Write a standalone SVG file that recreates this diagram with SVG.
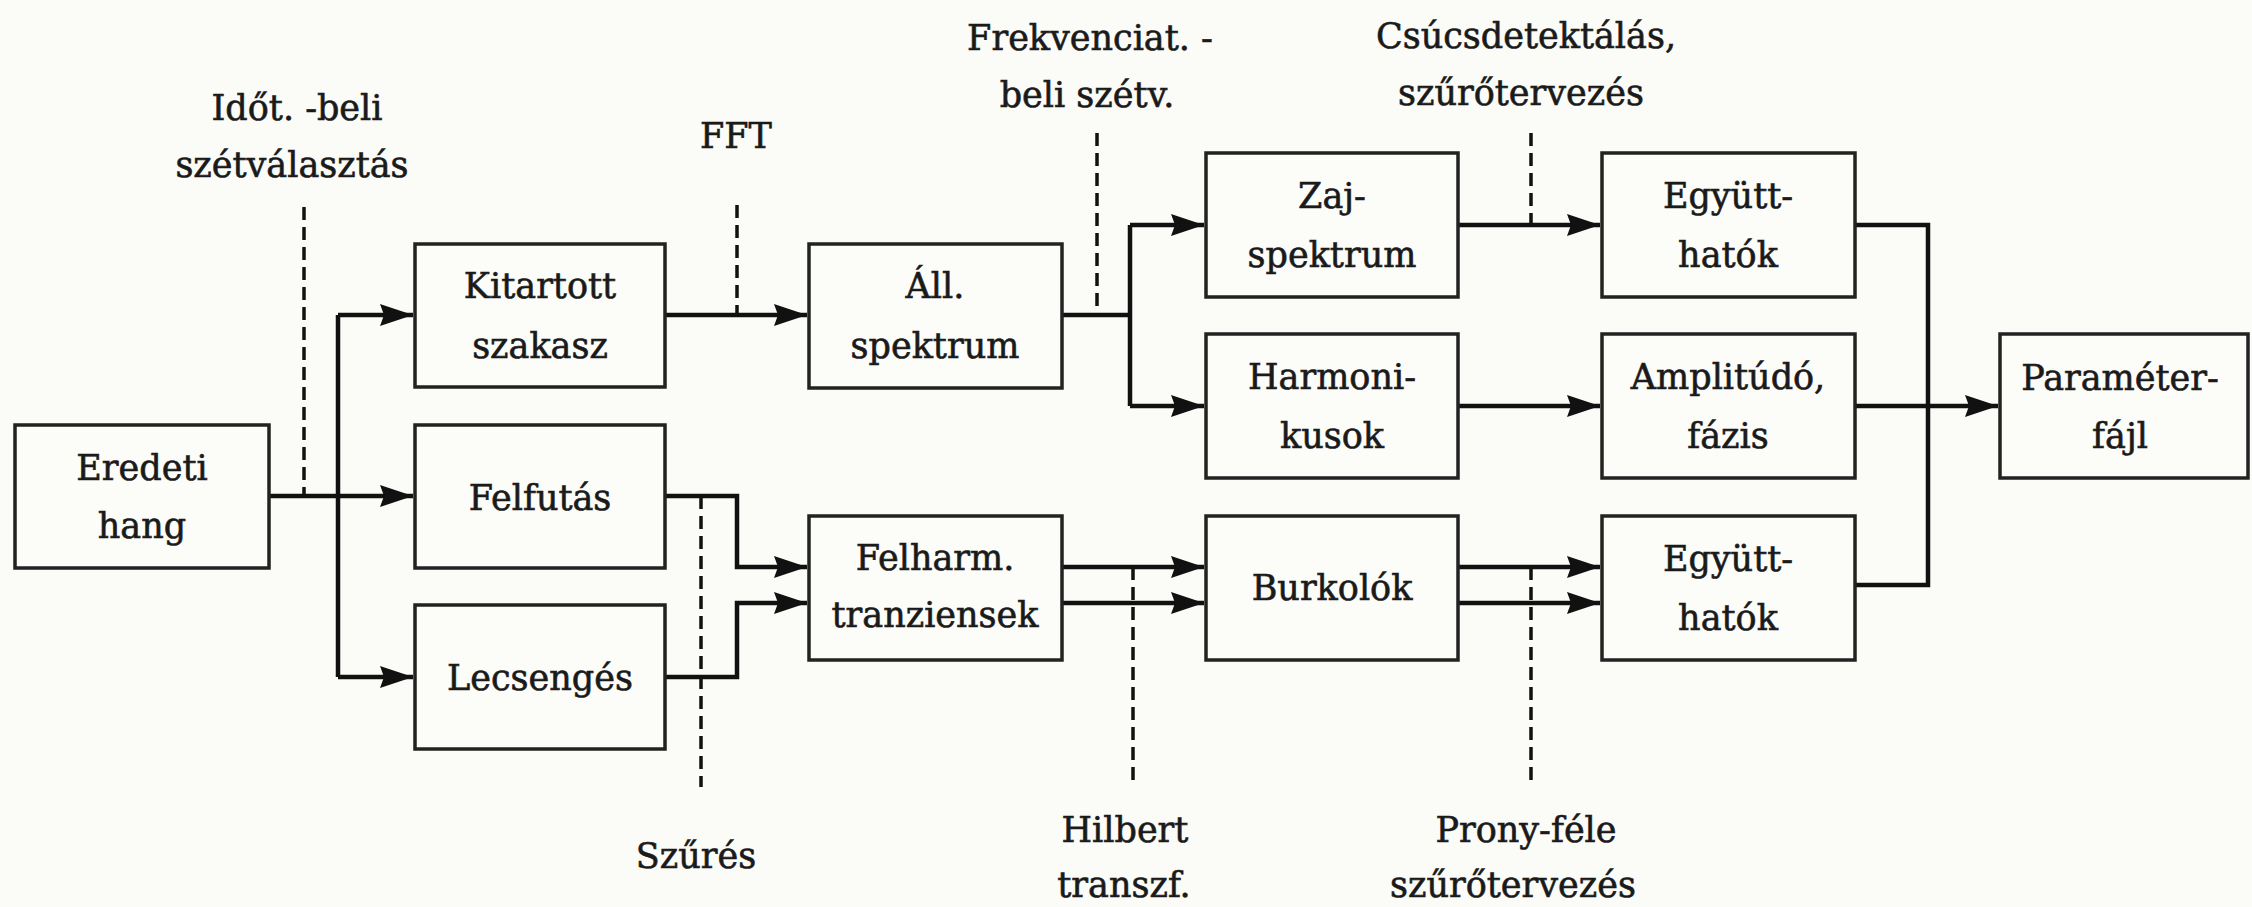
<svg xmlns="http://www.w3.org/2000/svg" width="2252" height="907" viewBox="0 0 2252 907">
<style>
.bg{fill:#fbfbf7}
.box{fill:#fcfcf9;stroke:#222;stroke-width:3.5}
.t{font-family:"DejaVu Serif","Liberation Serif",serif;font-size:35px;fill:#1a1a1a;stroke:#1a1a1a;stroke-width:0.6;text-anchor:middle}
.c{fill:none;stroke:#111;stroke-width:4.5;stroke-linejoin:miter}
.a{fill:none;stroke:#111;stroke-width:4.5;marker-end:url(#ah)}
.d{fill:none;stroke:#111;stroke-width:3.5;stroke-dasharray:13 7}
</style>
<defs>
<marker id="ah" markerUnits="userSpaceOnUse" markerWidth="36" markerHeight="24" refX="33" refY="11" orient="auto">
<path d="M0,0 L33,11 L0,22 L4,11 z" fill="#111"/>
</marker>
</defs>
<rect class="bg" x="0" y="0" width="2252" height="907"/>

<g id="connectors">
<path class="a" d="M269,496 H413"/>
<path class="c" d="M338,315 V677"/>
<path class="a" d="M338,315 H413"/>
<path class="a" d="M338,677 H413"/>
<path class="a" d="M665,315 H807"/>
<path class="a" d="M665,496 H737 V567 H807"/>
<path class="a" d="M665,677 H737 V603 H807"/>
<path class="c" d="M1062,315 H1130"/>
<path class="c" d="M1130,225 V406"/>
<path class="a" d="M1130,225 H1204"/>
<path class="a" d="M1130,406 H1204"/>
<path class="a" d="M1062,567 H1204"/>
<path class="a" d="M1062,603 H1204"/>
<path class="a" d="M1458,225 H1600"/>
<path class="a" d="M1458,406 H1600"/>
<path class="a" d="M1458,567 H1600"/>
<path class="a" d="M1458,603 H1600"/>
<path class="c" d="M1855,225 H1928 V585 H1855"/>
<path class="a" d="M1855,406 H1998"/>
<path class="d" d="M304,207 V496"/>
<path class="d" d="M737,205 V315"/>
<path class="d" d="M701,496 V787"/>
<path class="d" d="M1097,133 V315"/>
<path class="d" d="M1133,567 V787"/>
<path class="d" d="M1531,133 V225"/>
<path class="d" d="M1531,567 V787"/>
</g>

<g id="labels">
<text class="t" x="297" y="120">Időt. -beli</text>
<text class="t" x="292" y="177">szétválasztás</text>
<text class="t" x="736" y="148">FFT</text>
<text class="t" x="1090" y="50">Frekvenciat. -</text>
<text class="t" x="1087" y="107">beli szétv.</text>
<text class="t" x="1526" y="48">Csúcsdetektálás,</text>
<text class="t" x="1521" y="105">szűrőtervezés</text>
<text class="t" x="696" y="868">Szűrés</text>
<text class="t" x="1125" y="842">Hilbert</text>
<text class="t" x="1124" y="897">transzf.</text>
<text class="t" x="1526" y="842">Prony-féle</text>
<text class="t" x="1513" y="897">szűrőtervezés</text>
</g>

<g id="n-eredeti"><rect class="box" x="15" y="425" width="254" height="143"/><text class="t" x="142" y="480">Eredeti</text><text class="t" x="142" y="538">hang</text></g>
<g id="n-kitartott"><rect class="box" x="415" y="244" width="250" height="143"/><text class="t" x="540" y="298">Kitartott</text><text class="t" x="540" y="358">szakasz</text></g>
<g id="n-felfutas"><rect class="box" x="415" y="425" width="250" height="143"/><text class="t" x="540" y="510">Felfutás</text></g>
<g id="n-lecsenges"><rect class="box" x="415" y="605" width="250" height="144"/><text class="t" x="540" y="690">Lecsengés</text></g>
<g id="n-all"><rect class="box" x="809" y="244" width="253" height="144"/><text class="t" x="935" y="298">Áll.</text><text class="t" x="935" y="358">spektrum</text></g>
<g id="n-felharm"><rect class="box" x="809" y="516" width="253" height="144"/><text class="t" x="935" y="570">Felharm.</text><text class="t" x="935" y="627">tranziensek</text></g>
<g id="n-zaj"><rect class="box" x="1206" y="153" width="252" height="144"/><text class="t" x="1332" y="208">Zaj-</text><text class="t" x="1332" y="267">spektrum</text></g>
<g id="n-harmoni"><rect class="box" x="1206" y="334" width="252" height="144"/><text class="t" x="1332" y="389">Harmoni-</text><text class="t" x="1332" y="448">kusok</text></g>
<g id="n-burkolok"><rect class="box" x="1206" y="516" width="252" height="144"/><text class="t" x="1332" y="600">Burkolók</text></g>
<g id="n-egyutt1"><rect class="box" x="1602" y="153" width="253" height="144"/><text class="t" x="1728" y="208">Együtt-</text><text class="t" x="1728" y="267">hatók</text></g>
<g id="n-amplitudo"><rect class="box" x="1602" y="334" width="253" height="144"/><text class="t" x="1728" y="389">Amplitúdó,</text><text class="t" x="1728" y="448">fázis</text></g>
<g id="n-egyutt2"><rect class="box" x="1602" y="516" width="253" height="144"/><text class="t" x="1728" y="571">Együtt-</text><text class="t" x="1728" y="630">hatók</text></g>
<g id="n-parameter"><rect class="box" x="2000" y="334" width="248" height="144"/><text class="t" x="2120" y="390">Paraméter-</text><text class="t" x="2120" y="448">fájl</text></g>
</svg>
